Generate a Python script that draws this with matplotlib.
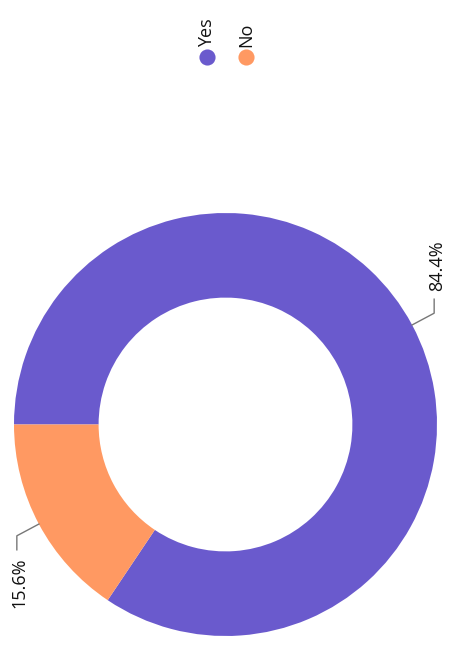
import numpy as np
import matplotlib.pyplot as plt

plt.rcParams['font.family'] = ['Open Sans', 'DejaVu Sans']

labels = ['Yes', 'No']
shares = [84.4, 15.6]
colors = ['#6a5acd', '#ff9962']

fig = plt.figure(figsize=(4.5, 6.45), dpi=100)
ax = fig.add_axes([0, 0, 1, 1])

cx, cy, R = 225.5, 220.5, 211.5
wedges, _ = ax.pie(shares, colors=colors, startangle=180, counterclock=False,
                   center=(cx, cy), radius=R, frame=True,
                   wedgeprops=dict(width=R * 0.4, linewidth=0))
ax.set_xlim(0, 450)
ax.set_ylim(0, 645)
ax.set_aspect('equal')
ax.axis('off')

# leader lines with rotated percentage labels
for w, val in zip(wedges, shares):
    mid = np.deg2rad((w.theta1 + w.theta2) / 2)
    x0, y0 = cx + R * np.cos(mid), cy + R * np.sin(mid)
    x1, y1 = cx + (R + 25) * np.cos(mid), cy + (R + 25) * np.sin(mid)
    up = 1 if np.sin(mid) >= 0 else -1
    y2 = y1 + up * 14
    ax.plot([x0, x1, x1], [y0, y1, y2], color='#777777', lw=1)
    ax.text(x1 + 3, y2 + up * 8, f'{val}%', rotation=90, fontsize=13,
            ha='center', va='bottom' if up > 0 else 'top', color='#111111')

# legend
for x, lab, col in zip([207, 246], labels, colors):
    ax.scatter([x], [588], s=135, color=col, lw=0)
    ax.text(x, 598, lab, rotation=90, fontsize=13, ha='center', va='bottom',
            color='#111111')

fig.savefig('out.png', dpi=100)
